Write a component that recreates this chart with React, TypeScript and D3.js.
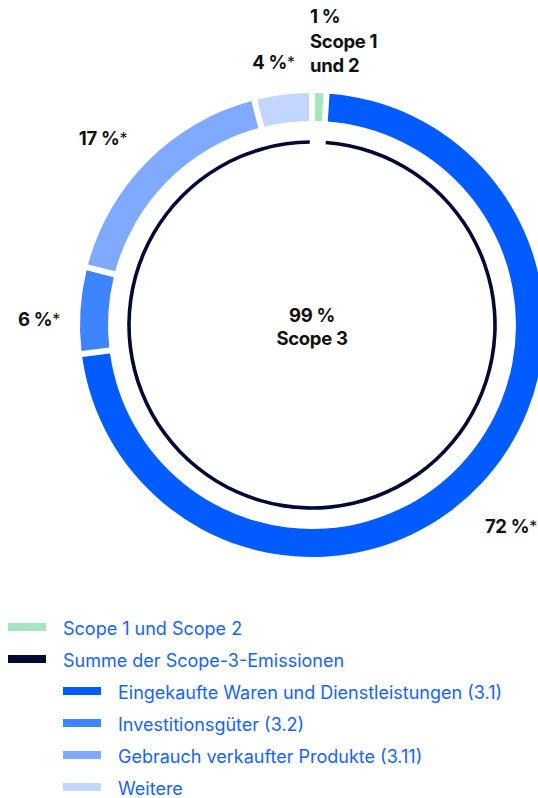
import React from "react";
import * as d3 from "d3";

const categories = [
  "Scope 1 und Scope 2",
  "Eingekaufte Waren und Dienstleistungen (3.1)",
  "Investitionsgüter (3.2)",
  "Gebrauch verkaufter Produkte (3.11)",
  "Weitere",
];
const values = [1, 72, 6, 17, 4];
const valueLabels = ["1 %", "72 %", "6 %", "17 %", "4 %"];
const footnoteMark = [false, true, true, true, true];
const colors = ["#A6E5BE", "#005CFF", "#3F84FF", "#80AAFF", "#C2D6FF"];

const scope3Total = 99;
const scope3Label = ["99 %", "Scope 3"];
const scope12Label = ["1 %", "Scope 1", "und 2"];
const legendTop = ["Scope 1 und Scope 2", "Summe der Scope-3-Emissionen"];
const navy = "#000A33";
const legendText = "#1763FF";

const W = 538;
const H = 798;
const cx = 312;
const cy = 325;
const rOuter = 232;
const rInner = 204;
const rLine = 183;
const FONT = "Inter, 'Noto Sans', sans-serif";

// label anchor radius and pixel nudges per slice label
const labelR = 275;
const labelNudge: [number, number][] = [
  [0, 0],
  [-1.5, 20],
  [1.5, 18.5],
  [-14.5, 14.5],
  [-4, 17],
];

export default function App() {
  const pie = d3
    .pie<number>()
    .sort(null)
    .value((d) => d);
  const arcs = pie(values);
  const arcGen = d3
    .arc<d3.PieArcDatum<number>>()
    .innerRadius(rInner)
    .outerRadius(rOuter)
    .padAngle(0.0275)
    .padRadius(218);

  const innerArcs = pie([values[0], scope3Total]);
  const lineGen = d3
    .arc<d3.PieArcDatum<number>>()
    .innerRadius(rLine - 1.8)
    .outerRadius(rLine + 1.8)
    .padAngle(0.0275)
    .padRadius(160);

  const legendRows = [
    { label: legendTop[0], color: colors[0], indent: 0 },
    { label: legendTop[1], color: navy, indent: 0 },
    ...categories.slice(1).map((c, i) => ({ label: c, color: colors[i + 1], indent: 1 })),
  ];

  return (
    <svg
      width={W}
      height={H}
      style={{ position: "absolute", left: 0, top: 0, display: "block" }}
      fontFamily={FONT}
    >
      <g transform={`translate(${cx},${cy})`}>
        {arcs.map((a, i) => (
          <path key={i} d={arcGen(a) || ""} fill={colors[i]} />
        ))}
        <path d={lineGen(innerArcs[1]) || ""} fill={navy} />
        {arcs.map((a, i) => {
          if (i === 0) return null;
          const ang = (a.startAngle + a.endAngle) / 2;
          const x = Math.sin(ang) * labelR + labelNudge[i][0];
          const y = -Math.cos(ang) * labelR + labelNudge[i][1];
          return (
            <text
              key={"l" + i}
              x={x}
              y={y}
              textAnchor="middle"
              fontSize={18.5}
              fontWeight={700}
              fill="#111111"
              letterSpacing={-0.3}
            >
              {valueLabels[i]}
              {footnoteMark[i] && (
                <tspan fontWeight={400} fontSize={16} dy={-1}>*</tspan>
              )}
            </text>
          );
        })}
        <text
          textAnchor="middle"
          fontSize={18.5}
          fontWeight={700}
          fill="#111111"
          letterSpacing={-0.3}
        >
          <tspan x={0} y={-3}>{scope3Label[0]}</tspan>
          <tspan x={0} y={19.5}>{scope3Label[1]}</tspan>
        </text>
      </g>
      <text fontSize={18.5} fontWeight={700} fill="#111111" letterSpacing={-0.3}>
        {scope12Label.map((t, i) => (
          <tspan key={i} x={310} y={23 + i * 24.5}>
            {t}
          </tspan>
        ))}
      </text>
      <g>
        {legendRows.map((r, i) => {
          const y = 627 + i * 32;
          const x0 = 8 + r.indent * 55;
          return (
            <g key={i}>
              <rect x={x0} y={y - 4} width={38} height={8} fill={r.color} />
              <text
                x={x0 + 55}
                y={y + 8}
                fontSize={18}
                fill={legendText}
                letterSpacing={0}
              >
                {r.label}
              </text>
            </g>
          );
        })}
      </g>
    </svg>
  );
}
